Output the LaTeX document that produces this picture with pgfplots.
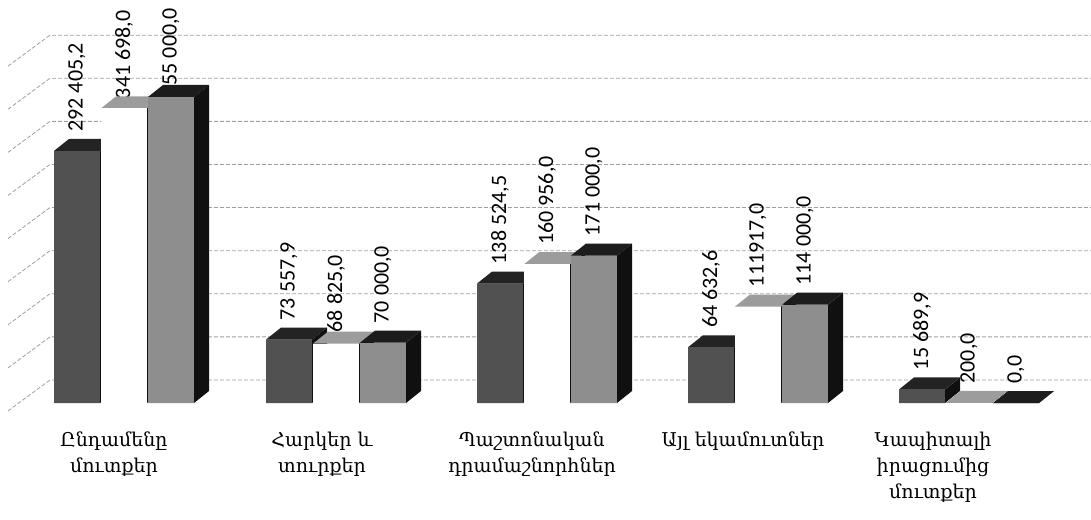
\documentclass[border=0pt]{standalone}
\usepackage{pgfplots}
\pgfplotsset{compat=1.18}
\usepackage{pgfplotstable}
\usepackage{fontspec}
\setmainfont{Carlito}
\newfontfamily\armfont{DejaVu Serif}

\definecolor{frontA}{HTML}{515151}
\definecolor{frontC}{HTML}{8E8E8E}
\definecolor{topA}{HTML}{232323}
\definecolor{topB}{HTML}{9C9C9C}
\definecolor{topC}{HTML}{1C1C1C}
\definecolor{sidec}{HTML}{101010}
\definecolor{gridc}{HTML}{A0A0A0}

\pgfplotstableread{
x y label
77 292405.2 {292 405,2}
289 73557.9 {73 557,9}
500 138524.5 {138 524,5}
711 64632.6 {64 632,6}
922 15689.9 {15 689,9}
}\serA
\pgfplotstableread{
x y label
124 341698.0 {\hspace*{-5pt}341 698,0}
336 68825.0 {\hspace*{-4pt}68 825,0}
547 160956.0 {160 956,0}
758 111917.0 {111917,0}
969 200.0 {200,0}
}\serB
\pgfplotstableread{
x y label
171 355000.0 {\hspace*{-9.5pt}355 000,0}
383 70000.0 {70 000,0}
594 171000.0 {171 000,0}
805 114000.0 {114 000,0}
1016 0.0 {0,0}
}\serC

% front, side and top faces of a 3-D column, drawn at its top-front-centre point
\newcommand\boxfaces[2]{%
  \begingroup\pgfkeys{/pgf/fpu=true,/pgf/fpu/output format=fixed}%
  \pgfmathparse{\vv/2320}\xdef\hh{\pgfmathresult}\endgroup
  \pgfpathmoveto{\pgfpoint{11.5pt}{0pt}}%
  \pgfpathlineto{\pgfpoint{19pt}{6pt}}%
  \pgfpathlineto{\pgfpoint{19pt}{6pt-\hh pt}}%
  \pgfpathlineto{\pgfpoint{11.5pt}{0pt-\hh pt}}%
  \pgfpathclose
  \pgfsetfillcolor{sidec}\pgfusepath{fill}%
  \pgfpathmoveto{\pgfpoint{-11.5pt}{0pt}}%
  \pgfpathlineto{\pgfpoint{11.5pt}{0pt}}%
  \pgfpathlineto{\pgfpoint{19pt}{6pt}}%
  \pgfpathlineto{\pgfpoint{-4pt}{6pt}}%
  \pgfpathclose
  \pgfsetfillcolor{#2}\pgfusepath{fill}%
  \pgfpathrectanglecorners{\pgfpoint{-11.5pt}{0pt-\hh pt}}{\pgfpoint{11.5pt}{0pt}}%
  \pgfsetfillcolor{#1}\pgfusepath{fill}%
}
\pgfdeclareplotmark{boxA}{\boxfaces{frontA}{topA}}
\pgfdeclareplotmark{boxB}{\boxfaces{white}{topB}}
\pgfdeclareplotmark{boxC}{\boxfaces{frontC}{topC}}

\pgfplotsset{
  front/.style={ybar, bar shift=0pt, bar width=23pt, draw=none,
    point meta=explicit symbolic,
    nodes near coords={\pgfplotspointmeta},
    every node near coord/.append style={font=\fontsize{11}{13}\selectfont,
      yshift=8.5pt, rotate=90, anchor=west, inner sep=1pt, text=black}},
  faces/.style={scatter, only marks, point meta=y, mark=#1,
    visualization depends on={rawy \as \vv}},
}

\begin{document}
\begin{tikzpicture}
\begin{axis}[name=ax, at={(0,0)}, anchor=south west,
  width=545.5pt, height=207.5pt, scale only axis,
  xmin=0, xmax=1091, ymin=-13920, ymax=467480,
  clip=false, axis line style={draw=none}, tick style={draw=none},
  ytick=\empty,
  xtick={114,322,532,743,933},
  xticklabels={{Ընդամենը\\մուտքեր},{Հարկեր և\\տուրքեր},{Պաշտոնական\\դրամաշնորհներ},{Այլ եկամուտներ},{Կապիտալի\\իրացումից\\մուտքեր}},
  xticklabel style={font=\armfont\fontsize{9.5}{13}\selectfont, align=center, yshift=-5pt},
]
% back wall grid and left wall lines
\addplot[gridc, dash pattern=on 2pt off 1pt, line width=0.4pt, unbounded coords=jump, forget plot] coordinates {
 (8,-9260) (50,26700) (1091,26700) (nan,nan)
 (8,40740) (50,76700) (1091,76700) (nan,nan)
 (8,90740) (50,126700) (1091,126700) (nan,nan)
 (8,140740) (50,176700) (1091,176700) (nan,nan)
 (8,190740) (50,226700) (1091,226700) (nan,nan)
 (8,240740) (50,276700) (1091,276700) (nan,nan)
 (8,290740) (50,326700) (1091,326700) (nan,nan)
 (8,340740) (50,376700) (1091,376700) (nan,nan)
 (8,390740) (50,426700) (1091,426700)
};
% front faces with value labels
\addplot[front, fill=frontA] table[x=x,y=y,meta=label] {\serA};
\addplot[front, fill=white] table[x=x,y=y,meta=label] {\serB};
\addplot[front, fill=frontC] table[x=x,y=y,meta=label] {\serC};
% 3-D columns, drawn series by series
\addplot[faces=boxA] table[x=x,y=y] {\serA};
\addplot[faces=boxB] table[x=x,y=y] {\serB};
\addplot[faces=boxC] table[x=x,y=y] {\serC};
\end{axis}
\pgfresetboundingbox
\path[use as bounding box] (ax.south west) ++(0,-52pt) rectangle ++(545.5pt,259.5pt);
\end{tikzpicture}
\end{document}
